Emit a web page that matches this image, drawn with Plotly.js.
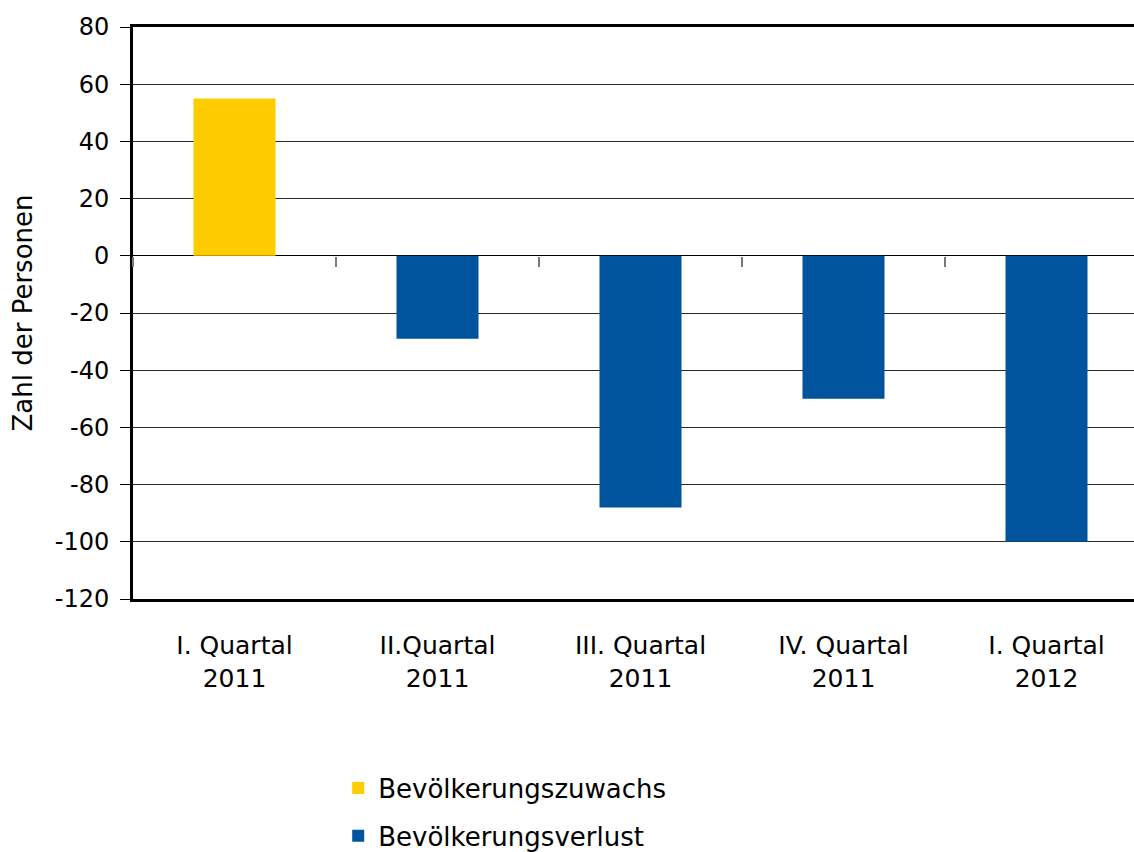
<!DOCTYPE html>
<html>
<head>
<meta charset="utf-8">
<script src="https://cdn.plot.ly/plotly-3.0.1.min.js"></script>
<style>html,body{margin:0;padding:0;background:#fff;}#chart{width:1134px;height:852px;}</style>
</head>
<body>
<div id="chart"></div>
<script>
const categories = ["I. Quartal<br>2011", "II.Quartal<br>2011", "III. Quartal<br>2011", "IV. Quartal<br>2011", "I. Quartal<br>2012"];
const zuwachs = [55, null, null, null, null];
const verlust = [null, -29, -88, -50, -100];
const seriesNames = ["Bevölkerungszuwachs", "Bevölkerungsverlust"];
const yTickVals = [80, 60, 40, 20, 0, -20, -40, -60, -80, -100, -120];
const yTickText = ["80", "60", "40", "20", "0", "-20", "-40", "-60", "-80", "-100", "-120"];
const yTitle = "Zahl der Personen";

const FONT = "DejaVu Sans";
const traces = [
  {type: "bar", x: categories, y: zuwachs, name: seriesNames[0], legendgroup: "a", marker: {color: "#FFCC00"}, hoverinfo: "skip"},
  {type: "bar", x: categories, y: verlust, name: seriesNames[1], legendgroup: "b", marker: {color: "#00539D"}, hoverinfo: "skip"},
  {type: "bar", x: categories, y: categories.map(() => null), xaxis: "x2", showlegend: false, hoverinfo: "skip"}
];

const layout = {
  width: 1134, height: 852,
  margin: {l: 133, r: 0, t: 27, b: 253, autoexpand: false},
  paper_bgcolor: "#fff", plot_bgcolor: "#fff",
  font: {family: FONT, color: "#000", size: 24},
  barmode: "relative",
  bargap: 0.596,
  showlegend: true,
  legend: {orientation: "v", x: 0.205, xanchor: "left", y: -0.2893, yanchor: "top",
           traceorder: "grouped", tracegroupgap: 11,
           font: {family: FONT, size: 26, color: "#000"}, bgcolor: "rgba(0,0,0,0)"},
  xaxis: {
    type: "category",
    range: [-0.5, 4.431],
    showline: true, linecolor: "#000", linewidth: 3, mirror: true,
    ticks: "", showgrid: false, zeroline: false,
    tickfont: {family: FONT, size: 25, color: "#000"},
    ticklabelstandoff: 22
  },
  xaxis2: {
    matches: "x", overlaying: "x", anchor: "free", position: 0.6, side: "bottom",
    type: "category",
    showline: false, showgrid: false, zeroline: false, showticklabels: false,
    ticks: "outside", tickson: "boundaries", ticklen: 10, tickwidth: 2, tickcolor: "#7a7a7a"
  },
  yaxis: {
    range: [-120, 80],
    tickmode: "array", tickvals: yTickVals, ticktext: yTickText,
    showline: true, linecolor: "#000", linewidth: 3,
    ticks: "outside", ticklen: 10, tickwidth: 1, tickcolor: "#000",
    ticklabelstandoff: 6,
    showgrid: true, gridcolor: "#2a2a2a", gridwidth: 1,
    zeroline: true, zerolinecolor: "#000", zerolinewidth: 1,
    tickfont: {family: FONT, size: 24, color: "#000"},
    automargin: false,
    title: {text: yTitle, standoff: 15, font: {family: FONT, size: 26, color: "#000"}}
  }
};

Plotly.newPlot("chart", traces, layout, {displayModeBar: false, staticPlot: true});
</script>
</body>
</html>
